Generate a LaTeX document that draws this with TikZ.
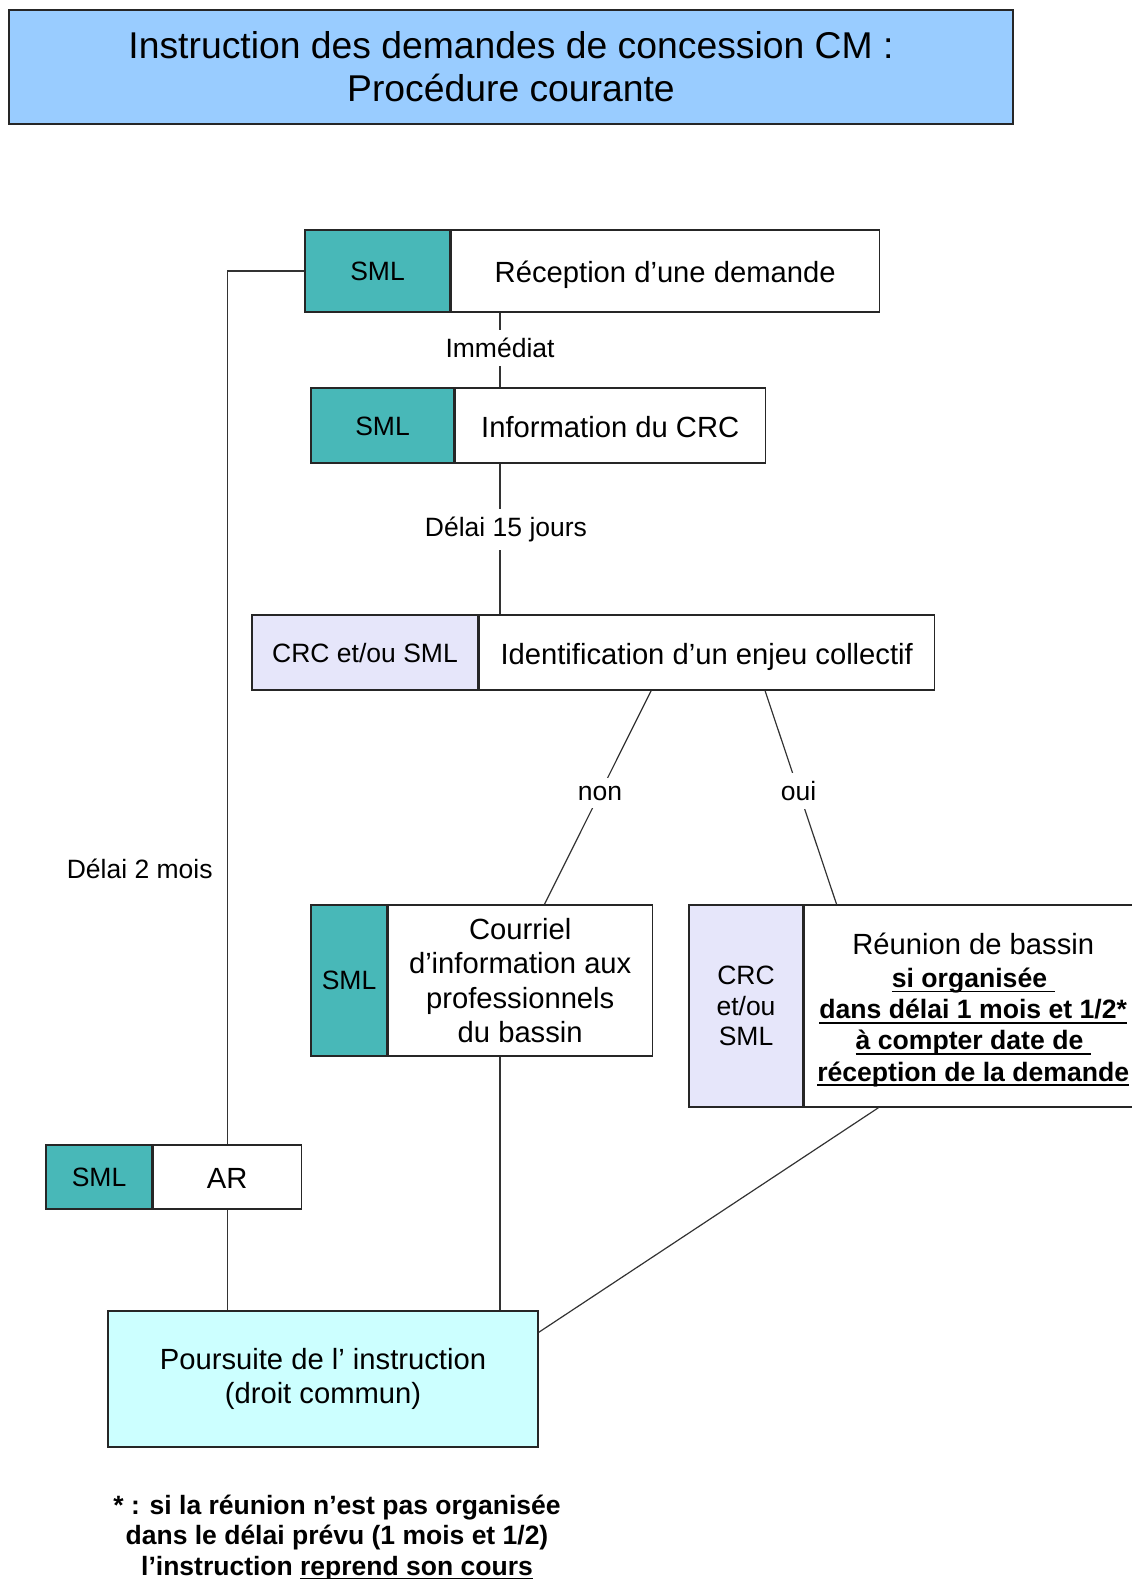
\documentclass[tikz,border=0pt]{standalone}
\usepackage{fontspec}
\setmainfont{Liberation Sans}
\usetikzlibrary{positioning}
\definecolor{titleblue}{HTML}{99CCFF}
\definecolor{smlteal}{HTML}{48B8B8}
\definecolor{crclav}{HTML}{E6E6FA}
\definecolor{finalcyan}{HTML}{CCFFFF}
\newcommand\ulbar[1]{\leavevmode\setbox0\hbox{#1}\rlap{\copy0}\rule[-2.4pt]{\wd0}{0.9pt}}
\begin{document}
\begin{tikzpicture}[x=0.5pt,y=-0.5pt,
    box/.style={draw=black!85,line width=0.6pt,inner sep=2pt,align=center,
      font=\fontsize{14.6}{17.1}\selectfont},
    one/.style={text height=11.5pt,text depth=0pt},
    onewho/.style={text height=9.5pt,text depth=0pt},
    who/.style={box,font=\fontsize{13.25}{15.4}\selectfont},
    sml/.style={who,fill=smlteal},
    crc/.style={who,fill=crclav},
    lbl/.style={fill=white,inner sep=4pt,font=\fontsize{13.25}{15}\selectfont},
    link/.style={draw=black!80,line width=0.6pt}]

       \useasboundingbox (0,0) rectangle (1131,1579);

       \node[box,fill=titleblue,minimum width=502pt,minimum height=57pt,
         font=\fontsize{18.65}{21.65}\selectfont] (title) at (511,67)
         {Instruction des demandes de concession CM :\\ Procédure courante};

       \coordinate (spine) at (500,0);

       \node[sml,onewho,minimum width=72.5pt,minimum height=41pt] (sml1) at (377.5,271) {SML};
       \node[box,one,anchor=west,minimum width=214pt,minimum height=41pt] (t1) at (sml1.east) {Réception d’une demande};

       \node[sml,onewho,minimum width=71.5pt,minimum height=37.5pt] (sml2) at (382.5,425.5) {SML};
       \node[box,one,anchor=west,minimum width=155pt,minimum height=37.5pt] (t2) at (sml2.east) {Information du CRC};

       \node[crc,onewho,minimum width=113pt,minimum height=37.5pt] (crc3) at (365,652.5) {CRC et/ou SML};
       \node[box,one,anchor=west,minimum width=227.5pt,minimum height=37.5pt] (t3) at (crc3.east) {Identification d’un enjeu collectif};

       \node[sml,minimum width=38pt,minimum height=75.5pt] (sml4) at (349,980.5) {SML};
       \node[box,anchor=west,minimum width=132pt,minimum height=75.5pt] (t4) at (sml4.east)
         {Courriel\\ d’information aux\\ professionnels\\ du bassin};

       \node[crc,minimum width=57pt,minimum height=101pt] (crc5) at (746,1006) {CRC\\ et/ou\\ SML};
       \node[box,anchor=west,minimum width=169pt,minimum height=101pt,
         font=\bfseries\fontsize{13.3}{15.6}\selectfont] (t5) at (crc5.east)
         {{\mdseries\fontsize{14.6}{16}\selectfont\rule{0pt}{14.5pt}Réunion de bassin}\\[1pt]
          \ulbar{si organisée\ }\\ \ulbar{dans délai 1 mois et 1/2*}\\
          \ulbar{à compter date de\ }\\ \ulbar{réception de la demande}};

       \node[sml,onewho,minimum width=53pt,minimum height=32pt] (smlar) at (99,1177) {SML};
       \node[box,one,anchor=west,minimum width=74pt,minimum height=32pt] (tar) at (smlar.east) {AR};

       \node[box,fill=finalcyan,minimum width=215pt,minimum height=68pt] (fin) at (323,1379)
         {Poursuite de l’ instruction\\ (droit commun)};

       \node[align=center,font=\bfseries\fontsize{13.25}{15.1}\selectfont] (note) at (337,1538)
         {* : si la réunion n’est pas organisée\\ dans le délai prévu (1 mois et 1/2)\\
          l’instruction \ulbar{reprend son cours}};

       \draw[link] (t1.south -| spine) -- node[lbl,pos=0.47] {Immédiat} (t2.north -| spine);
       \draw[link] (t2.south -| spine) -- node[lbl,pos=0.44,xshift=3pt] {Délai 15 jours} (t3.north -| spine);
       \draw[link] ([xshift=86.3pt]t3.south west) -- node[lbl,pos=0.48] {non} ([xshift=78.4pt]t4.north west);
       \draw[link] ([xshift=143.2pt]t3.south west) -- node[lbl,pos=0.47] {oui} ([xshift=16.5pt]t5.north west);
       \draw[link] (sml1.west) -| node[lbl,pos=0.842,left=3pt,fill=none] {Délai 2 mois} (tar.north);
       \draw[link] (tar.south) -- (tar.south |- fin.north);
       \draw[link] (t4.south -| spine) -- (fin.north -| spine);
       \draw[link] ([xshift=37.5pt]t5.south west) -- ([yshift=-11pt]fin.north east);
     \end{tikzpicture}
\end{document}
